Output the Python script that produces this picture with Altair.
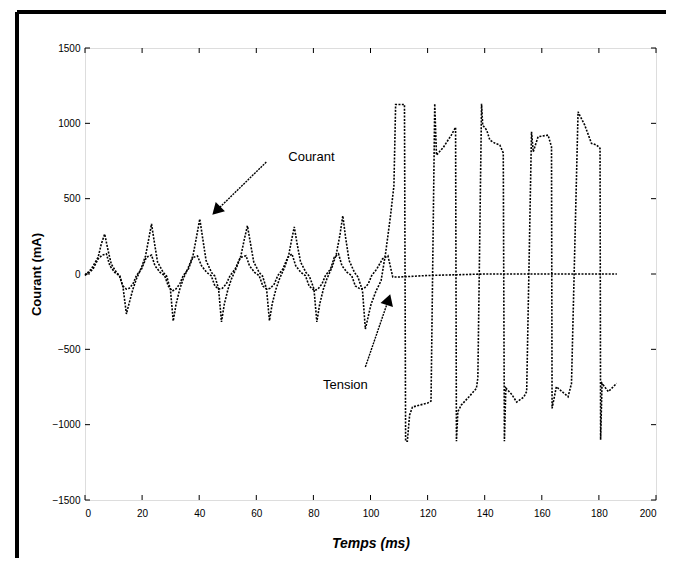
import altair as alt
import pandas as pd

# ---- data ----
courant_t = [0.0, 2.2, 4.6, 5.7, 6.9, 8.1, 9.2, 11.0, 12.2, 13.3, 14.5, 15.7, 16.8, 18.0, 19.8, 21.2, 22.3,
             23.3, 24.3, 25.4, 27.4, 28.6, 29.9, 30.9, 31.9, 33.2, 34.4, 36.2, 37.8, 39.1,
             40.2, 41.2, 42.4, 44.3, 45.5, 46.8, 47.8, 48.8, 50.1, 51.3, 53.1, 54.6, 55.8,
             56.9, 57.9, 59.1, 61.0, 62.2, 63.6, 64.6, 65.6, 66.9, 68.1, 69.9, 71.3, 72.3,
             73.3, 74.3, 75.5, 77.4, 78.6, 80.2, 81.2, 82.2, 83.5, 84.7, 86.5, 88.0, 89.3,
             90.3, 91.3, 92.5, 94.4, 95.6, 97.2, 98.2, 100.2, 102.0, 103.7, 105.3, 107.0, 108.2,
             108.8, 111.9, 112.3, 112.9, 113.7, 114.7, 117.2, 120.0, 121.2,
             122.5, 123.1, 125.5, 128.3, 129.8,
             130.1, 130.6, 131.8, 134.5, 137.1, 137.6,
             138.9, 139.3, 140.7, 141.8, 143.5, 145.3, 146.5,
             146.9, 147.4, 149.5, 151.2, 153.7, 154.7,
             156.4, 157.0, 158.7, 162.2, 163.4,
             163.6, 165.1, 169.2, 170.4,
             172.7, 173.3, 175.0, 177.4, 179.2, 180.4,
             180.6, 181.1, 183.3, 186.2]
courant_v = [-10, 33, 111, 199, 265, 155, 66, 11, -13, -86, -265, -177, -100, -33, 44, 120, 230,
             332, 210, 80, 10, -15, -100, -312, -200, -100, -33, 44, 120, 250,
             365, 240, 90, 10, -15, -100, -318, -200, -100, -33, 44, 120, 230,
             320, 210, 80, 10, -15, -100, -310, -195, -100, -33, 44, 120, 220,
             312, 200, 80, 10, -15, -100, -318, -200, -100, -33, 44, 130, 260,
             387, 240, 90, 10, -20, -110, -365, -200, -110, -45, 140, 385, 585,
             1125, 1125, -1110, -1110, -936, -883, -870, -857, -843,
             1130, 789, 840, 922, 974,
             -1110, -914, -870, -815, -759, -690,
             1130, 988, 955, 889, 869, 856, 803,
             -1110, -757, -800, -850, -817, -780,
             944, 811, 911, 922, 844,
             -892, -748, -815, -726,
             1077, 1053, 990, 867, 856, 834,
             -1100, -726, -781, -726]

tension_t = [0.0, 1.5, 2.8, 4.6, 6.0, 7.5, 8.7, 10.4, 12.0, 13.2, 14.5, 15.5, 16.8, 18.0, 19.8, 21.5,
             23.3, 24.5, 26.3, 27.9, 29.2, 30.6, 31.8, 33.2, 34.4, 36.2, 37.8,
             39.4, 40.8, 42.6, 44.2, 45.5, 46.8, 48.1, 49.5, 50.8, 52.6, 54.4,
             56.4, 57.6, 59.4, 61.0, 62.3, 63.6, 64.9, 66.3, 67.5, 69.3, 71.0,
             72.5, 73.8, 75.6, 77.2, 78.5, 80.3, 81.6, 83.0, 84.2, 86.0, 87.3,
             88.8, 90.0, 91.8, 93.4, 94.7, 96.5, 97.8, 99.2, 100.4, 102.2, 104.2,
             106.1, 107.8, 110.0, 115.0, 120.0, 130.0, 140.0, 150.0, 160.0, 170.0, 180.0, 186.3]
tension_v = [-5, 10, 33, 100, 125, 133, 55, 11, -11, -78, -100, -95, -66, -11, 33, 111,
             125, 55, 11, -11, -80, -113, -100, -66, -11, 33, 110,
             119, 55, 11, -11, -80, -100, -95, -66, -11, 33, 110,
             121, 55, 11, -11, -80, -100, -95, -66, -11, 33, 110,
             133, 55, 11, -11, -80, -110, -100, -66, -11, 33, 110,
             133, 55, 11, -11, -80, -100, -95, -66, -11, 33, 100,
             121, -20, -20, -15, -10, -5, 0, 0, 0, 0, 0, 0]

x_ticks = [0, 20, 40, 60, 80, 100, 120, 140, 160, 180, 200]
y_ticks = [-1500, -1000, -500, 0, 500, 1000, 1500]

note_text = ["Courant", "Tension"]
note_t = [79.3, 91.2]
note_v = [776, -737]
arrow_t0 = [63.5, 98.2]
arrow_v0 = [743, -617]
arrow_t1 = [46.0, 106.3]
arrow_v1 = [420, -170]
head_angle = [225, 18]

W, H = 571, 452

rows = []
for i, (t, v) in enumerate(zip(courant_t, courant_v)):
    rows.append({"t": t, "v": v, "s": "Courant", "o": i})
for i, (t, v) in enumerate(zip(tension_t, tension_v)):
    rows.append({"t": t, "v": v, "s": "Tension", "o": i})
df = pd.DataFrame(rows)

notes = pd.DataFrame({"label": note_text, "t": note_t, "v": note_v,
                      "t0": arrow_t0, "v0": arrow_v0, "t1": arrow_t1, "v1": arrow_v1,
                      "ang": head_angle})
xt = pd.DataFrame({"t": x_ticks})
yt = pd.DataFrame({"v": y_ticks})

xs = alt.Scale(domain=[0, 200], nice=False, zero=False)
ys = alt.Scale(domain=[-1500, 1500], nice=False, zero=False)

lines = alt.Chart(df).mark_line(
    color="black", strokeWidth=1.6, strokeDash=[2, 1.4], interpolate="linear"
).encode(
    x=alt.X("t:Q", scale=xs, axis=alt.Axis(
        values=x_ticks, format="d", title="Temps (ms)", grid=False, ticks=False, domain=False,
        labelFont="Liberation Sans", labelFontSize=10, labelPadding=8, labelColor="black",
        titleFont="Liberation Sans", titleFontSize=14, titleFontWeight="bold",
        titleFontStyle="italic", titleColor="black", titleY=43, titleBaseline="middle")),
    y=alt.Y("v:Q", scale=ys, axis=alt.Axis(
        values=y_ticks, format="d", title="Courant (mA)", grid=False, ticks=False, domain=False,
        labelFont="Liberation Sans", labelFontSize=10, labelPadding=5, labelColor="black",
        titleFont="Liberation Sans", titleFontSize=13, titleFontWeight="bold",
        titleColor="black", titleX=-49, titleBaseline="middle")),
    detail="s:N",
    order="o:Q",
)

tick_b = alt.Chart(xt).mark_rule(color="black", strokeWidth=1).encode(
    x=alt.X("t:Q", scale=xs), y=alt.value(H), y2=alt.value(H - 5))
tick_t = alt.Chart(xt).mark_rule(color="black", strokeWidth=1).encode(
    x=alt.X("t:Q", scale=xs), y=alt.value(0), y2=alt.value(5))
tick_l = alt.Chart(yt).mark_rule(color="black", strokeWidth=1).encode(
    y=alt.Y("v:Q", scale=ys), x=alt.value(0), x2=alt.value(5))
tick_r = alt.Chart(yt).mark_rule(color="black", strokeWidth=1).encode(
    y=alt.Y("v:Q", scale=ys), x=alt.value(W), x2=alt.value(W - 5))

arrows = alt.Chart(notes).mark_rule(color="black", strokeWidth=1.4, strokeDash=[2, 1]).encode(
    x=alt.X("t0:Q", scale=xs), y=alt.Y("v0:Q", scale=ys), x2="t1:Q", y2="v1:Q")
heads = alt.Chart(notes).mark_point(
    shape="triangle-up", filled=True, color="black", size=170, opacity=1
).encode(x=alt.X("t1:Q", scale=xs), y=alt.Y("v1:Q", scale=ys), angle=alt.Angle("ang:Q", scale=None))
texts = alt.Chart(notes).mark_text(
    font="Liberation Sans", fontSize=13, color="black", align="center", baseline="middle"
).encode(x=alt.X("t:Q", scale=xs), y=alt.Y("v:Q", scale=ys), text="label:N")

frame_l = alt.Chart(xt).mark_rule(color="black", strokeWidth=3).encode(
    x=alt.value(-68), y=alt.value(-36), y2=alt.value(H + 70))
frame_t = alt.Chart(xt).mark_rule(color="black", strokeWidth=3).encode(
    x=alt.value(-68), x2=alt.value(W + 30), y=alt.value(-36))
frame_b = alt.Chart(xt).mark_rule(color="#bbbbbb", strokeWidth=1, strokeDash=[1, 2]).encode(
    x=alt.value(-68), x2=alt.value(W + 30), y=alt.value(H + 63))

chart = alt.layer(
    frame_l, frame_t, frame_b, tick_b, tick_t, tick_l, tick_r, lines, arrows, heads, texts
).properties(
    width=W, height=H,
    autosize=alt.AutoSizeParams(type="none"),
    padding={"left": 77, "top": 40, "right": 10, "bottom": 58},
).configure_view(
    stroke="black", strokeWidth=1.4, strokeDash=[2, 1]
).configure(background="white")

chart.save("out.html", embed_options={"renderer": "svg", "actions": False})
